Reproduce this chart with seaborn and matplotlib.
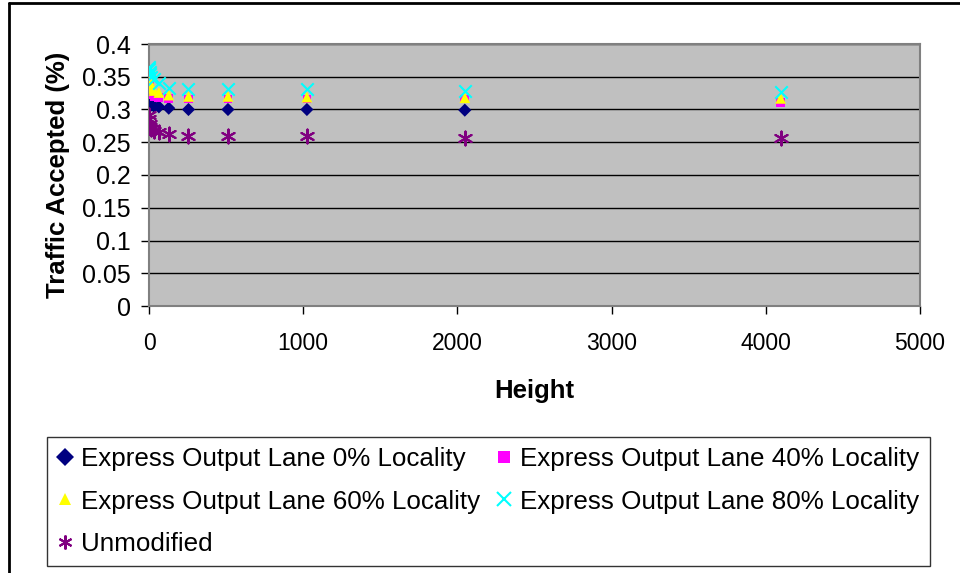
import numpy as np
import pandas as pd
import matplotlib
matplotlib.use("Agg")
import matplotlib.pyplot as plt
import seaborn as sns
from matplotlib.lines import Line2D

heights = [1, 2, 4, 8, 16, 32, 64, 128, 256, 512, 1024, 2048, 4096]
loc0 = [0.315, 0.313, 0.311, 0.309, 0.307, 0.305, 0.304, 0.302, 0.300, 0.300, 0.300, 0.299]
loc40 = [0.335, 0.332, 0.328, 0.325, 0.322, 0.320, 0.318, 0.317, 0.316, 0.316, 0.316, 0.316, 0.311]
loc60 = [0.345, 0.342, 0.338, 0.335, 0.332, 0.329, 0.326, 0.322, 0.320, 0.320, 0.319, 0.318, 0.317]
loc80 = [0.365, 0.362, 0.358, 0.354, 0.350, 0.346, 0.340, 0.333, 0.332, 0.331, 0.331, 0.329, 0.326]
unmod = [0.292, 0.285, 0.278, 0.273, 0.270, 0.267, 0.265, 0.263, 0.260, 0.260, 0.259, 0.256, 0.256]

labels = ["Express Output Lane 0% Locality", "Express Output Lane 40% Locality",
          "Express Output Lane 60% Locality", "Express Output Lane 80% Locality",
          "Unmodified"]
series = [loc0, loc40, loc60, loc80, unmod]

sns.set_theme(style="white")
plt.rcParams["font.family"] = ["Liberation Sans", "DejaVu Sans"]
plt.rcParams.update({"text.color": "black", "axes.labelcolor": "black",
                     "xtick.color": "black", "ytick.color": "black"})

fig = plt.figure(figsize=(9.6, 5.73), dpi=100)
ax = fig.add_axes([149/960, 1-306/573, (920-149)/960, (306-44)/573])
ax.set_facecolor("#C0C0C0")

styles = [
    dict(marker="D", color="#000080", s=45, edgecolor="none"),
    dict(marker="s", color="#FF00FF", s=40, edgecolor="none"),
    dict(marker="^", color="#FFFF00", s=60, edgecolor="none"),
    dict(marker="x", color="#00FFFF", s=80, linewidth=1.5),
    dict(marker=(6, 2, 0), color="#800080", s=100, linewidth=1.5),
]

frames = []
for lab, vals in zip(labels, series):
    frames.append(pd.DataFrame({"Height": heights[:len(vals)], "Value": vals, "Series": lab}))
df = pd.concat(frames, ignore_index=True)

for lab, st in zip(labels, styles):
    sub = df[df["Series"] == lab]
    sns.scatterplot(data=sub, x="Height", y="Value", ax=ax, zorder=3, legend=False, **st)

ax.set_xlim(0, 5000)
ax.set_ylim(0, 0.4)
ax.set_xticks([0, 1000, 2000, 3000, 4000, 5000])
ax.set_yticks(np.arange(0, 0.401, 0.05))
ax.set_yticklabels(["0", "0.05", "0.1", "0.15", "0.2", "0.25", "0.3", "0.35", "0.4"])
ax.yaxis.grid(True, color="black", linewidth=1.0)
ax.xaxis.grid(False)
ax.set_axisbelow(True)
for sp in ax.spines.values():
    sp.set_color("#808080")
    sp.set_linewidth(1.5)
ax.tick_params(axis="both", which="major", length=6, width=1,
               color="black", direction="out")
ax.tick_params(axis="x", pad=13, labelsize=16.5)
ax.tick_params(axis="y", pad=7, labelsize=18)
ax.tick_params(left=True, bottom=True)
ax.set_xlabel("Height", fontsize=18.5, fontweight="bold", labelpad=17)
ax.set_ylabel("Traffic Accepted (%)", fontsize=18.5, fontweight="bold", labelpad=8.5)

handles = []
for lab, st in zip(labels, styles):
    mk = st["marker"]
    line_mk = mk in ["x", (6, 2, 0)]
    h = Line2D([], [], linestyle="none", marker=mk, color=st["color"],
               markerfacecolor=st["color"],
               markeredgecolor=st["color"] if line_mk else "none",
               markersize=10 if line_mk else 9, markeredgewidth=1.5)
    handles.append(h)
order = [0, 2, 4, 1, 3]
leg = fig.legend([handles[i] for i in order], [labels[i] for i in order],
                 loc="upper left", bbox_to_anchor=(47/960, 1-437/573),
                 ncol=2, frameon=True, fancybox=False,
                 edgecolor="black", fontsize=18.7, handlelength=0.55, handletextpad=0.35,
                 labelspacing=0.7, borderpad=0.4, borderaxespad=0, columnspacing=0.65)
leg.get_frame().set_linewidth(1.0)

fig.add_artist(Line2D([9/960, 9/960], [0, 1-3/573], color="black", linewidth=2, transform=fig.transFigure))
fig.add_artist(Line2D([9/960, 1], [1-3/573, 1-3/573], color="black", linewidth=2, transform=fig.transFigure))

fig.savefig("out.png", dpi=100)
